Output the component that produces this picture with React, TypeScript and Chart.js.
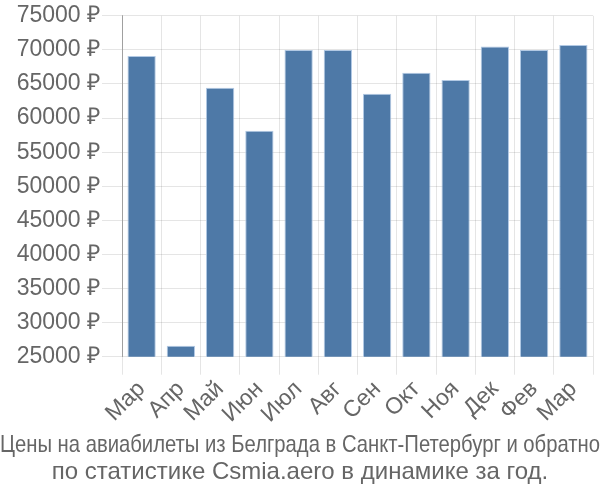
import React, { useEffect, useRef } from "react";
import { Chart, registerables } from "chart.js";

Chart.register(...registerables);

const categories = ["Мар", "Апр", "Май", "Июн", "Июл", "Авг", "Сен", "Окт", "Ноя", "Дек", "Фев", "Мар"];
const prices = [69100, 26600, 64450, 58150, 70000, 70000, 63550, 66650, 65600, 70500, 70000, 70700];
const titleLines = [
  "Цены на авиабилеты из Белграда в Санкт-Петербург и обратно",
  "по статистике Csmia.aero в динамике за год.",
];
const yMin = 25000;
const yMax = 75000;
const yStep = 5000;
const currency = " ₽";

const FONT = "'Liberation Sans', Arial, sans-serif";

export default function App() {
  const ref = useRef<HTMLCanvasElement | null>(null);
  useEffect(() => {
    document.body.style.margin = "0";
    const canvas = ref.current;
    if (!canvas) return;
    const chart = new Chart(canvas, {
      type: "bar",
      data: {
        labels: categories,
        datasets: [
          {
            data: prices,
            backgroundColor: "#4e79a7",
            borderColor: "rgba(170,195,225,0.9)",
            borderWidth: 1,
          },
        ],
      },
      options: {
        animation: false,
        responsive: false,
        devicePixelRatio: 1,
        layout: { padding: { top: 3, right: 0, left: 0, bottom: 0 } },
        plugins: {
          legend: { display: false },
          tooltip: { enabled: false },
          title: {
            display: true,
            position: "bottom",
            text: titleLines,
            color: "#666",
            font: { family: FONT, size: 24, weight: "normal", lineHeight: 1.12 },
            padding: { top: 3, bottom: 14 },
          },
        },
        scales: {
          x: {
            grid: { offset: true, color: "rgba(0,0,0,0.1)", tickLength: 18, lineWidth: 1 },
            border: { display: false },
            ticks: {
              color: "#666",
              font: { family: FONT, size: 23 },
              maxRotation: 45,
              minRotation: 45,
              autoSkip: false,
              padding: 1,
            },
          },
          y: {
            min: yMin,
            max: yMax,
            afterFit: (s: any) => {
              s.width = 122;
            },
            grid: { color: "rgba(0,0,0,0.1)", tickLength: 20 },
            border: { display: true, color: "rgba(0,0,0,0.3)" },
            ticks: {
              stepSize: yStep,
              color: "#666",
              font: { family: FONT, size: 23 },
              padding: 2,
              callback: (v: any) => `${v}${currency}`,
            },
          },
          yRight: {
            position: "right",
            min: yMin,
            max: yMax,
            afterFit: (s: any) => {
              s.width = 7;
            },
            grid: { display: false },
            border: { display: false },
            ticks: { display: false },
          },
        },
      },
    });
    return () => chart.destroy();
  }, []);
  return <canvas ref={ref} width={600} height={500} style={{ display: "block" }} />;
}
